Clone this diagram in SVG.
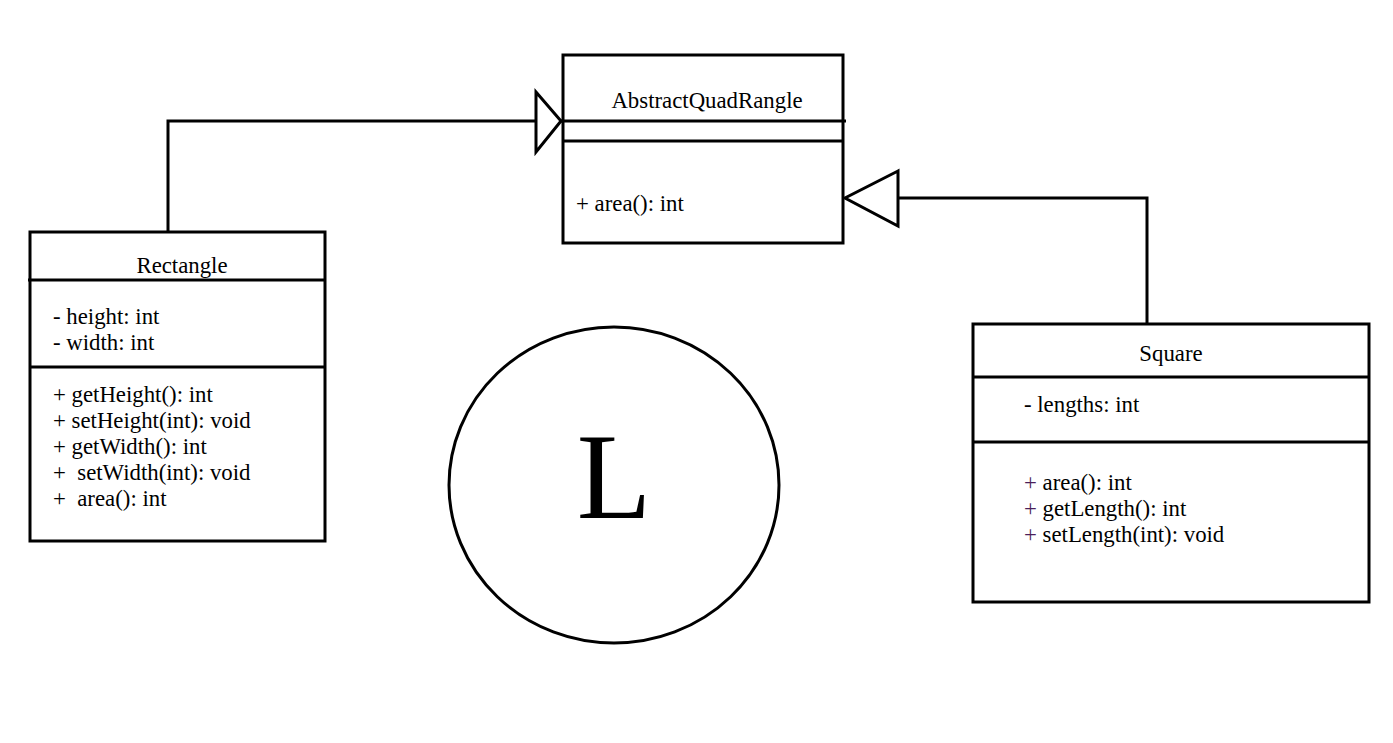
<svg xmlns="http://www.w3.org/2000/svg" width="1393" height="743" viewBox="0 0 1393 743">
<style>
.box{fill:#fff;stroke:#000;stroke-width:3}
.ln{stroke:#000;stroke-width:3;fill:none}
.t{font-family:'Liberation Serif','Times New Roman',serif;font-size:22.8px;fill:#000}
.c{text-anchor:middle}
.p{fill:#4b1f5a}
</style>
<rect width="1393" height="743" fill="#fff"/>
<g id="connectors">
<polyline class="ln" points="168,232 168,121 536,121"/>
<polygon class="ln" points="536,92 561,121 536,152"/>
<polyline class="ln" points="1147,324 1147,198 898,198"/>
<polygon class="ln" points="898,171 845,198 898,226"/>
</g>
<g id="abstract">
<rect class="box" x="563" y="55" width="280" height="188"/>
<line class="ln" x1="561" y1="121" x2="846" y2="121"/>
<line class="ln" x1="563" y1="141" x2="843" y2="141"/>
<text class="t c" x="707" y="108">AbstractQuadRangle</text>
<text class="t" x="576" y="211">+ area(): int</text>
</g>
<g id="rectangle">
<rect class="box" x="30" y="232" width="295" height="309"/>
<line class="ln" x1="28" y1="280" x2="325" y2="280"/>
<line class="ln" x1="30" y1="367" x2="325" y2="367"/>
<text class="t c" x="182" y="273">Rectangle</text>
<text class="t" x="53" y="324">- height: int</text>
<text class="t" x="53" y="350">- width: int</text>
<text class="t" x="53" y="402">+ getHeight(): int</text>
<text class="t" x="53" y="428">+ setHeight(int): void</text>
<text class="t" x="53" y="454">+ getWidth(): int</text>
<text class="t" x="53" y="480" xml:space="preserve">+  setWidth(int): void</text>
<text class="t" x="53" y="506" xml:space="preserve">+  area(): int</text>
</g>
<g id="square">
<rect class="box" x="973" y="324" width="396" height="278"/>
<line class="ln" x1="973" y1="377" x2="1369" y2="377"/>
<line class="ln" x1="973" y1="442" x2="1369" y2="442"/>
<text class="t c" x="1171" y="361">Square</text>
<text class="t" x="1024" y="412">- lengths: int</text>
<text class="t" x="1024" y="490"><tspan class="p">+</tspan> area(): int</text>
<text class="t" x="1024" y="516"><tspan class="p">+</tspan> getLength(): int</text>
<text class="t" x="1024" y="542"><tspan class="p">+</tspan> setLength(int): void</text>
</g>
<g id="circle">
<ellipse class="ln" cx="614" cy="485" rx="165" ry="158"/>
<text x="614" y="518" text-anchor="middle" font-family="'Liberation Serif','Times New Roman',serif" font-size="122">L</text>
</g>
</svg>
